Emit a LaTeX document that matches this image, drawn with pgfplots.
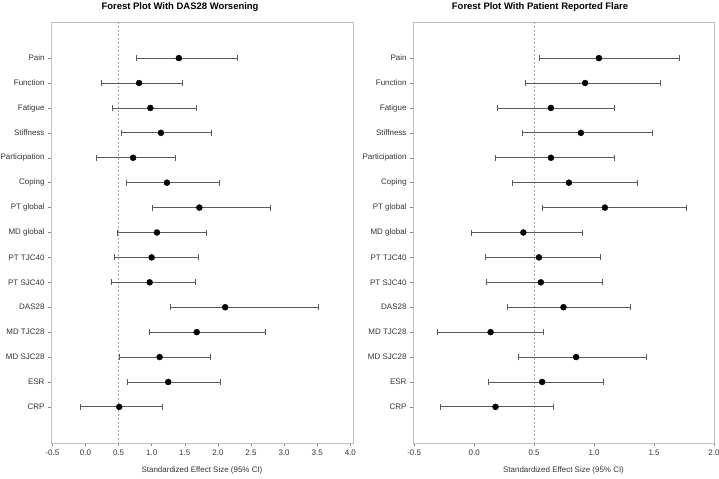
\documentclass[border=0pt]{standalone}
\usepackage{pgfplots}
\pgfplotsset{compat=1.18}
\usepackage{pgfplotstable}
\usepackage{fontspec}
\setmainfont{Liberation Sans}

\pgfplotstableread{
pos val lo hi
0 1.41 0.77 2.30
1 0.81 0.24 1.46
2 0.98 0.41 1.68
3 1.14 0.55 1.90
4 0.72 0.17 1.36
5 1.23 0.62 2.03
6 1.72 1.01 2.79
7 1.08 0.48 1.83
8 1.00 0.43 1.71
9 0.97 0.39 1.66
10 2.11 1.29 3.51
11 1.68 0.97 2.71
12 1.12 0.52 1.89
13 1.25 0.63 2.04
14 0.51 -0.07 1.16
}\dasdata

\pgfplotstableread{
pos val lo hi
0 1.04 0.54 1.71
1 0.925 0.43 1.55
2 0.64 0.19 1.17
3 0.89 0.40 1.49
4 0.64 0.18 1.17
5 0.79 0.32 1.36
6 1.09 0.57 1.77
7 0.41 -0.025 0.90
8 0.54 0.095 1.05
9 0.556 0.106 1.07
10 0.745 0.28 1.30
11 0.137 -0.305 0.58
12 0.85 0.37 1.44
13 0.567 0.12 1.08
14 0.178 -0.28 0.66
}\flaredata

\definecolor{framegray}{HTML}{BFBFBF}
\definecolor{bargray}{HTML}{5A5A5A}
\definecolor{textgray}{HTML}{333333}
\definecolor{refgray}{HTML}{A6A6A6}

\pgfplotsset{
  forest/.style={
    scale only axis,
    height=421bp,
    anchor=south west,
    y dir=reverse,
    ymin=-1.45, ymax=15.45,
    ytick={0,...,14},
    yticklabels={Pain,Function,Fatigue,Stiffness,Participation,Coping,PT global,MD global,PT TJC40,PT SJC40,DAS28,MD TJC28,MD SJC28,ESR,CRP},
    axis line style={framegray},
    tick style={framegray!70!black, line width=0.5bp},
    tick align=outside,
    major tick length=3bp,
    xtick pos=bottom, ytick pos=left,
    ticklabel style={font=\fontsize{8}{9}\selectfont, text=textgray},
    /pgf/number format/.cd, fixed, fixed zerofill, precision=1, assume math mode=true,
    /pgfplots/.cd,
    xlabel={Standardized Effect Size (95\% CI)},
    xlabel style={at={(axis description cs:0.5,-0.064)}, anchor=center, font=\fontsize{8}{9}\selectfont, text=textgray},
    clip=false,
  },
  fp/.style={
    only marks, mark=*, mark size=3bp, black,
    error bars/.cd, x dir=both, x explicit,
    error bar style={bargray, line width=0.8bp},
    error mark options={bargray, mark size=3bp, line width=0.8bp, rotate=90},
  },
  refline/.style={refgray, line width=0.5bp, dash pattern=on 2bp off 2bp},
}

\begin{document}
\begin{tikzpicture}
\useasboundingbox (0,0) rectangle (719bp,479bp);

\begin{axis}[forest, width=302bp, at={(51bp,36bp)},
  xmin=-0.52, xmax=4.04, xtick={-0.5,0,0.5,1,1.5,2,2.5,3,3.5,4}]
  \addplot[refline] coordinates {(0.5,-1.45) (0.5,15.45)};
  \addplot[fp] table[x=val, y=pos, x error plus expr=\thisrow{hi}-\thisrow{val}, x error minus expr=\thisrow{val}-\thisrow{lo}] {\dasdata};
\end{axis}

\begin{axis}[forest, width=301bp, at={(413bp,36bp)},
  xmin=-0.51, xmax=2.0, xtick={-0.5,0,0.5,1,1.5,2}]
  \addplot[refline] coordinates {(0.5,-1.45) (0.5,15.45)};
  \addplot[fp] table[x=val, y=pos, x error plus expr=\thisrow{hi}-\thisrow{val}, x error minus expr=\thisrow{val}-\thisrow{lo}] {\flaredata};
\end{axis}

\node[font=\bfseries\fontsize{9.5}{11}\selectfont, text=black] at (180bp,472bp) {Forest Plot With DAS28 Worsening};
\node[font=\bfseries\fontsize{9.5}{11}\selectfont, text=black] at (540bp,472bp) {Forest Plot With Patient Reported Flare};
\end{tikzpicture}
\end{document}
